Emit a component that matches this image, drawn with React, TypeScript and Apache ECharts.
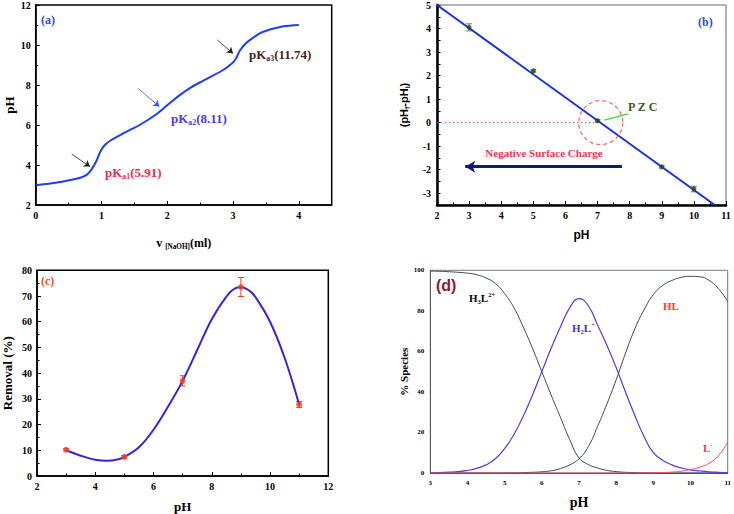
import React, { useEffect, useRef } from "react";
import * as echarts from "echarts";

// ---------- Panel (a): titration curve ----------
const titrationV = [0, 0.2, 0.4, 0.6, 0.7, 0.78, 0.85, 0.93, 0.98, 1.05, 1.15, 1.33, 1.58, 1.84, 2.04, 2.2, 2.35, 2.55, 2.85, 3.0, 3.05, 3.1, 3.2, 3.3, 3.45, 3.75, 4.0];
const titrationPH = [3.0, 3.06, 3.16, 3.3, 3.39, 3.52, 3.78, 4.25, 4.65, 5.0, 5.25, 5.58, 6.0, 6.55, 7.1, 7.52, 7.86, 8.22, 8.75, 9.12, 9.35, 9.7, 10.1, 10.35, 10.65, 10.92, 11.0];
const arrowsA = [
  { from: [0.547, 4.55], to: [0.825, 3.92], color: "#222" },
  { from: [1.56, 7.82], to: [1.88, 6.92], color: "#3050ff" },
  { from: [2.76, 10.25], to: [3.0, 9.58], color: "#222" },
];

// ---------- Panel (b): point of zero charge ----------
const pzcPH = [3, 5, 7, 9, 10];
const pzcDelta = [4.05, 2.2, 0.08, -1.88, -2.82];
const pzcErr = [0.15, 0.05, 0.05, 0.05, 0.12];
const fitPH = [2, 10.65];
const fitDelta = [5, -3.5];
const zeroLinePH = [2, 7];
const pzcCenter = [7.1, 0];
const pzcPointer = [[7.21, 0.11], [7.96, 0.37]];
const chargeArrow = { from: [7.76, -1.87], to: [2.88, -1.87] };
const yTicksB = [-3, -2, -1, 0, 1, 2, 3, 4, 5];
const yMinorB = [-3.5, -3, -2.5, -2, -1.5, -1, -0.5, 0, 0.5, 1, 1.5, 2, 2.5, 3, 3.5, 4, 4.5, 5];

// ---------- Panel (c): removal vs pH ----------
const removalPH = [3, 5, 7, 9, 11];
const removalVal = [10.2, 7.4, 37, 73.5, 27.8];
const removalErr = [0.5, 0.5, 2, 3.7, 1.2];
const removalCurvePH = [3, 3.5, 4, 4.4, 4.8, 5, 5.5, 6, 6.5, 7, 7.5, 8, 8.5, 8.8, 9, 9.3, 9.5, 10, 10.5, 11];
const removalCurveVal = [10, 7.9, 6.3, 5.9, 6.5, 7.4, 11.2, 18, 27, 37, 49, 61, 69.8, 73, 73.4, 72, 69.6, 60, 46, 27.8];

// ---------- Panel (d): species distribution ----------
const speciesPH = [3, 3.25, 3.5, 3.75, 4, 4.25, 4.5, 4.75, 5, 5.25, 5.5, 5.75, 6, 6.25, 6.5, 6.75, 7, 7.25, 7.5, 7.75, 8, 8.25, 8.5, 8.75, 9, 9.25, 9.5, 9.75, 10, 10.25, 10.5, 10.75, 11];
const h3l = [99.6, 99.5, 99.3, 99.0, 98.6, 97.8, 96.2, 93.5, 88.5, 81.5, 72, 61.5, 50, 38.5, 27.5, 16.5, 7.5, 4.2, 2.5, 1.3, 0.7, 0.35, 0.2, 0.1, 0.05, 0, 0, 0, 0, 0, 0, 0, 0];
const h2l = [0.1, 0.2, 0.4, 0.7, 1.3, 2.3, 4, 7, 12, 19, 28, 38.5, 50, 61.5, 72, 81.5, 86, 82.5, 73, 63, 52, 40, 28.5, 18, 10, 6.3, 4, 2.5, 1.5, 1.0, 0.6, 0.35, 0.2];
const hl = [0, 0, 0, 0, 0, 0, 0, 0, 0.05, 0.1, 0.2, 0.35, 0.6, 1.1, 2.2, 4, 7, 13, 23, 34, 46, 59, 71, 80.5, 88, 92.5, 95, 96.5, 97, 96.8, 95, 91, 84.5];
const lminus = [0, 0, 0, 0, 0, 0, 0, 0, 0, 0, 0, 0, 0, 0, 0, 0, 0, 0, 0, 0, 0, 0, 0.02, 0.05, 0.1, 0.2, 0.45, 0.9, 1.7, 2.9, 4.8, 8.5, 15.2];

const SERIF = "'Liberation Serif', 'Times New Roman', serif";
const SANS = "'Liberation Sans', Arial, sans-serif";

const zip = (xs: number[], ys: number[]) => xs.map((x, i) => [x, ys[i]]);

function errorBars(xAxisIndex: number, yAxisIndex: number, xs: number[], ys: number[], es: number[], color: string, cap: number) {
  return {
    type: "custom",
    xAxisIndex,
    yAxisIndex,
    z: 3,
    data: xs.map((x, i) => [x, ys[i], es[i]]),
    encode: { x: 0, y: 1 },
    renderItem: (_p: any, api: any) => {
      const x = api.value(0);
      const y = api.value(1);
      const e = api.value(2);
      const t = api.coord([x, y + e]);
      const b = api.coord([x, y - e]);
      const st = { stroke: color, lineWidth: 1 };
      return {
        type: "group",
        children: [
          { type: "line", shape: { x1: t[0], y1: t[1], x2: b[0], y2: b[1] }, style: st },
          { type: "line", shape: { x1: t[0] - cap, y1: t[1], x2: t[0] + cap, y2: t[1] }, style: st },
          { type: "line", shape: { x1: b[0] - cap, y1: b[1], x2: b[0] + cap, y2: b[1] }, style: st },
        ],
      };
    },
  };
}

function baseAxis(gridIndex: number, min: number, max: number, interval: number | undefined, font: string, fontSize: number, extra: any = {}) {
  return {
    type: "value",
    gridIndex,
    min,
    max,
    interval,
    splitLine: { show: false },
    axisLine: { show: true, onZero: false, lineStyle: { color: "#000", width: 1.5 } },
    axisTick: { show: true, inside: true, length: 4, lineStyle: { color: "#000" } },
    minorTick: { show: true, splitNumber: 2, length: 2.5, lineStyle: { color: "#000" } },
    axisLabel: { color: "#000", fontFamily: font, fontWeight: "bold", fontSize, margin: 5 },
    ...extra,
  };
}

function txt(x: number, y: number, text: string, fill: string, font: string, size: number, rich?: any, align = "left") {
  return {
    type: "text",
    x,
    y,
    z: 100,
    style: {
      text,
      fill,
      fontFamily: font,
      fontWeight: "bold",
      fontSize: size,
      align,
      verticalAlign: "middle",
      textAlign: align,
      textVerticalAlign: "middle",
      rich,
    },
  };
}

export default function App() {
  const ref = useRef<HTMLDivElement>(null);
  useEffect(() => {
    document.body.style.margin = "0";
    if (!ref.current) return;
    const chart = echarts.init(ref.current, null, { renderer: "svg" });

    const subRich = (size: number, font: string, color?: string) => ({
      sub: { fontSize: size * 0.6, fontFamily: font, fontWeight: "bold", verticalAlign: "bottom", lineHeight: size * 1.1, padding: [size * 0.45, 0, 0, 0], color },
      sup: { fontSize: size * 0.6, fontFamily: font, fontWeight: "bold", verticalAlign: "top", lineHeight: size * 1.1, padding: [0, 0, size * 0.45, 0], color },
      m: { fontSize: size, fontFamily: font, fontWeight: "bold", lineHeight: size * 1.3, color },
    });

    const option: any = {
      animation: false,
      backgroundColor: "#fff",
      grid: [
        { left: 35.7, top: 5, width: 296, height: 200, show: true, borderColor: "#000", borderWidth: 1.5 },
        { left: 437, top: 5, width: 289, height: 200, show: true, borderColor: "#666", borderWidth: 1 },
        { left: 35.7, top: 270.3, width: 292.6, height: 206, show: true, borderColor: "#000", borderWidth: 1.5 },
        { left: 430.3, top: 270.3, width: 299, height: 202.7, show: true, borderColor: "#777", borderWidth: 1 },
      ],
      xAxis: [
        baseAxis(0, 0, 4.5, 1, SERIF, 10, {
          name: "{m|v }{sub|[NaOH]}{m|(ml)}",
          nameLocation: "middle",
          nameGap: 30,
          nameTextStyle: { rich: subRich(12, SERIF, "#000") },
          axisLabel: { color: "#000", fontFamily: SERIF, fontWeight: "bold", fontSize: 10, margin: 5, showMaxLabel: false },
        }),
        baseAxis(1, 2, 11, 1, SERIF, 10, {
          name: "pH",
          nameLocation: "middle",
          nameGap: 24,
          nameTextStyle: { fontFamily: SANS, fontWeight: "bold", fontSize: 12, color: "#000" },
          axisLine: { show: true, onZero: false, lineStyle: { color: "#000", width: 2.5 } },
        }),
        baseAxis(2, 2, 12, 2, SERIF, 10, {
          name: "pH",
          nameLocation: "middle",
          nameGap: 24,
          nameTextStyle: { fontFamily: SERIF, fontWeight: "bold", fontSize: 13, color: "#000" },
        }),
        baseAxis(3, 3, 11, 1, SERIF, 7, {
          name: "pH",
          nameLocation: "middle",
          nameGap: 22,
          nameTextStyle: { fontFamily: SERIF, fontWeight: "bold", fontSize: 14, color: "#000" },
          axisLine: { show: true, onZero: false, lineStyle: { color: "#555", width: 1 } },
          axisTick: { show: false },
          minorTick: { show: false },
          axisLabel: { color: "#000", fontFamily: SERIF, fontWeight: "bold", fontSize: 7, margin: 6 },
        }),
      ],
      yAxis: [
        baseAxis(0, 2, 12, 2, SERIF, 10, {
          name: "pH",
          nameLocation: "middle",
          nameGap: 20,
          nameTextStyle: { fontFamily: SERIF, fontWeight: "bold", fontSize: 13, color: "#000" },
        }),
        baseAxis(1, -3.5, 5, undefined, SERIF, 10, {
          name: "{m|(pH}{sub|f}{m|-pH}{sub|i}{m|)}",
          nameLocation: "middle",
          nameGap: 26,
          nameTextStyle: {
            color: "#000",
            rich: {
              m: { fontFamily: SANS, fontWeight: "bold", fontSize: 11, color: "#000", lineHeight: 14 },
              sub: { fontFamily: SANS, fontWeight: "bold", fontSize: 7, color: "#000", verticalAlign: "bottom", lineHeight: 12, padding: [5, 0, 0, 0] },
            },
          },
          axisLine: { show: true, onZero: false, lineStyle: { color: "#000", width: 2.5 } },
          axisLabel: { color: "#000", fontFamily: SERIF, fontWeight: "bold", fontSize: 10, margin: 6, customValues: yTicksB },
          axisTick: { show: true, inside: true, length: 3.5, customValues: yMinorB, lineStyle: { color: "#000" } },
          minorTick: { show: false },
        }),
        baseAxis(2, 0, 80, 10, SERIF, 10, {
          name: "Removal (%)",
          nameLocation: "middle",
          nameGap: 23,
          nameTextStyle: { fontFamily: SERIF, fontWeight: "bold", fontSize: 13, color: "#000" },
        }),
        baseAxis(3, 0, 100, 20, SERIF, 7, {
          name: "% Species",
          nameLocation: "middle",
          nameGap: 19,
          nameTextStyle: { fontFamily: SERIF, fontWeight: "bold", fontSize: 11, color: "#000" },
          axisLine: { show: true, onZero: false, lineStyle: { color: "#555", width: 1 } },
          axisTick: { show: false },
          minorTick: { show: false },
          axisLabel: { color: "#000", fontFamily: SERIF, fontWeight: "bold", fontSize: 7, margin: 6 },
        }),
      ],
      series: [
        // (a)
        {
          type: "line",
          xAxisIndex: 0,
          yAxisIndex: 0,
          data: zip(titrationV, titrationPH),
          smooth: 0.35,
          showSymbol: false,
          lineStyle: { color: "#1f3df5", width: 2 },
          markLine: {
            silent: true,
            symbol: ["none", "arrow"],
            symbolSize: 6,
            label: { show: false },
            data: arrowsA.map((a) => [
              { coord: a.from, lineStyle: { color: a.color, width: 0.8, type: "solid" } },
              { coord: a.to },
            ]),
          },
        },
        // (b)
        {
          type: "line",
          xAxisIndex: 1,
          yAxisIndex: 1,
          data: zip(zeroLinePH, [0, 0]),
          showSymbol: false,
          lineStyle: { color: "#ff4f72", width: 1.3, type: [1.3, 2.7] },
        },
        {
          type: "line",
          xAxisIndex: 1,
          yAxisIndex: 1,
          data: zip(fitPH, fitDelta),
          showSymbol: false,
          lineStyle: { color: "#1530e8", width: 2 },
          z: 4,
        },
        errorBars(1, 1, pzcPH, pzcDelta, pzcErr, "#6a8a40", 3),
        {
          type: "scatter",
          xAxisIndex: 1,
          yAxisIndex: 1,
          data: zip(pzcPH, pzcDelta),
          symbolSize: 5,
          itemStyle: { color: "#254a18" },
          z: 5,
        },
        {
          type: "scatter",
          xAxisIndex: 1,
          yAxisIndex: 1,
          data: [pzcCenter],
          symbolSize: 44,
          silent: true,
          itemStyle: { color: "rgba(0,0,0,0)", borderColor: "#ff4a30", borderWidth: 1.3, borderType: [4, 3] },
          z: 6,
        },
        {
          type: "line",
          xAxisIndex: 1,
          yAxisIndex: 1,
          data: pzcPointer,
          showSymbol: false,
          lineStyle: { color: "#33e033", width: 1.3 },
          z: 6,
        },
        {
          type: "line",
          xAxisIndex: 1,
          yAxisIndex: 1,
          data: [],
          markLine: {
            silent: true,
            symbol: ["none", "arrow"],
            symbolSize: [9, 10],
            label: { show: false },
            data: [[
              { coord: chargeArrow.from, lineStyle: { color: "#0d1a80", width: 3, type: "solid" } },
              { coord: chargeArrow.to },
            ]],
          },
        },
        // (c)
        {
          type: "line",
          xAxisIndex: 2,
          yAxisIndex: 2,
          data: zip(removalCurvePH, removalCurveVal),
          smooth: 0.4,
          showSymbol: false,
          lineStyle: { color: "#3a22d6", width: 2 },
        },
        errorBars(2, 2, removalPH, removalVal, removalErr, "#ff3a1a", 3),
        {
          type: "scatter",
          xAxisIndex: 2,
          yAxisIndex: 2,
          data: zip(removalPH, removalVal),
          symbolSize: 6,
          itemStyle: { color: "#ff3a1a" },
          z: 5,
        },
        // (d)
        {
          type: "line",
          xAxisIndex: 3,
          yAxisIndex: 3,
          data: zip(speciesPH, h3l),
          smooth: 0.5,
          showSymbol: false,
          lineStyle: { color: "#3d4a50", width: 1 },
        },
        {
          type: "line",
          xAxisIndex: 3,
          yAxisIndex: 3,
          data: zip(speciesPH, h2l),
          smooth: 0.5,
          showSymbol: false,
          lineStyle: { color: "#5a36f0", width: 1.2 },
        },
        {
          type: "line",
          xAxisIndex: 3,
          yAxisIndex: 3,
          data: zip(speciesPH, hl),
          smooth: 0.5,
          showSymbol: false,
          lineStyle: { color: "#3d4a50", width: 1 },
        },
        {
          type: "line",
          xAxisIndex: 3,
          yAxisIndex: 3,
          data: zip(speciesPH, lminus),
          smooth: 0.5,
          showSymbol: false,
          lineStyle: { color: "#ff4a68", width: 1 },
        },
      ],
      graphic: [
        txt(41, 20, "(a)", "#2a4de0", SERIF, 12),
        txt(105, 172, "{m|pK}{sub|a1}{m|(5.91)}", "#ff1f4a", SERIF, 13, subRich(13, SERIF, "#ff1f4a")),
        txt(171, 118, "{m|pK}{sub|a2}{m|(8.11)}", "#4a3af0", SERIF, 13, subRich(13, SERIF, "#4a3af0")),
        txt(249, 54, "{m|pK}{sub|a3}{m|(11.74)}", "#4a1f22", SERIF, 13, { ...subRich(13, SERIF, "#4a1f22"), sub: { ...subRich(13, SERIF, "#8a3ad0").sub } }),
        txt(698, 22, "(b)", "#2a4de0", SERIF, 12),
        txt(628, 107, "P Z C", "#3a5a1a", SERIF, 12),
        txt(544, 153, "Negative Surface Charge", "#ff3050", SERIF, 11, undefined, "center"),
        txt(41, 281, "(c)", "#ff4a1a", SERIF, 12),
        txt(436, 285, "(d)", "#8b1a30", SANS, 16),
        txt(469, 298, "{m|H}{sub|3}{m|L}{sup|2+}", "#000", SERIF, 11, subRich(11, SERIF, "#000")),
        txt(572, 328, "{m|H}{sub|2}{m|L}{sup|+}", "#4a2af0", SERIF, 11, subRich(11, SERIF, "#4a2af0")),
        txt(663, 306, "HL", "#ff3a1a", SERIF, 11),
        txt(703, 448, "{m|L}{sup|-}", "#ff3050", SERIF, 11, subRich(11, SERIF, "#ff3050")),
      ],
    };
    chart.setOption(option);
    return () => chart.dispose();
  }, []);
  return <div ref={ref} style={{ position: "absolute", left: 0, top: 0, width: 734, height: 514 }} />;
}
